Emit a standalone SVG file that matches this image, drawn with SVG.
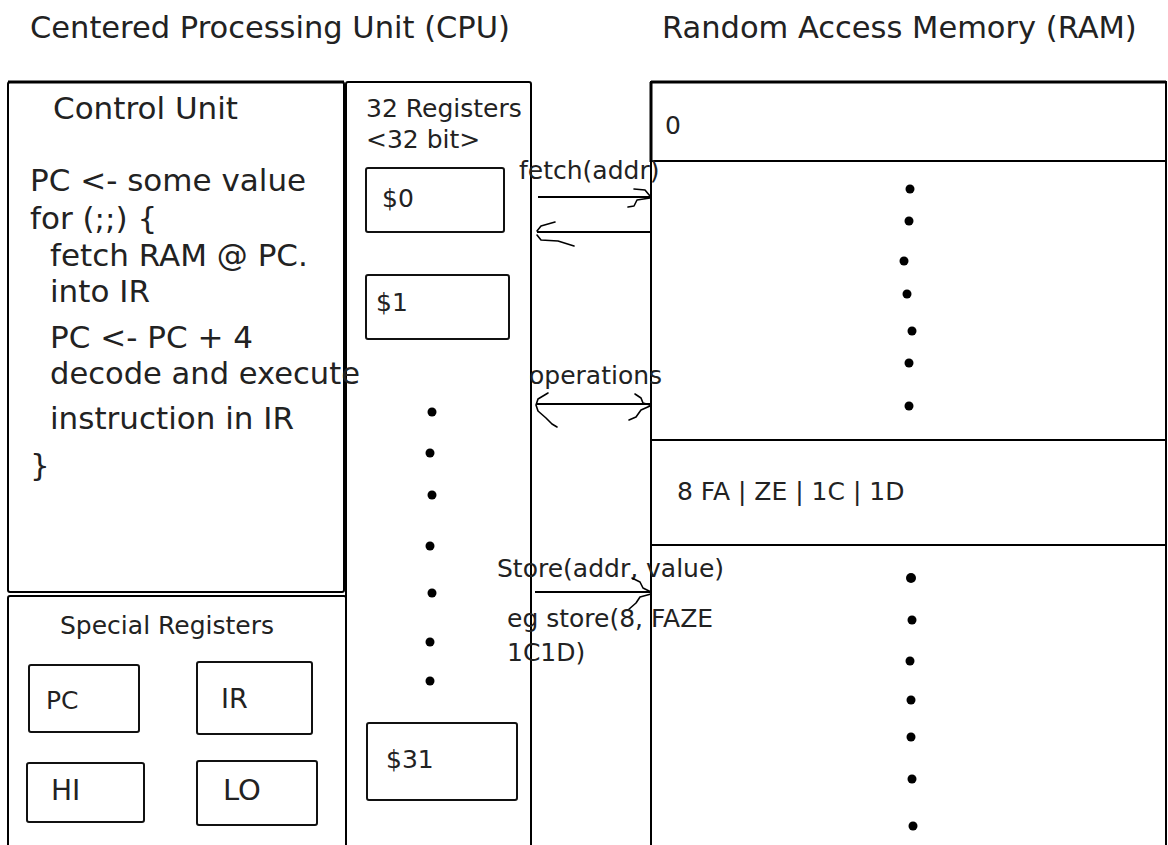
<svg xmlns="http://www.w3.org/2000/svg" width="1168" height="845" viewBox="0 0 1168 845">
  <style>
    .box { fill: #fff; stroke: #000; stroke-width: 2; }
    .reg { fill: #fff; stroke: #111; stroke-width: 2; }
    .t { font-family: "DejaVu Sans", "Liberation Sans", sans-serif; fill: #222; }
    .title { font-size: 30.5px; }
    .big { font-size: 31px; }
    .mid { font-size: 25px; }
    .dot { fill: #000; }
    .wire { fill: none; stroke: #000; stroke-width: 2; }
    .head { fill: none; stroke: #000; stroke-width: 1.6; stroke-linecap: round; stroke-linejoin: round; }
  </style>
  <rect width="1168" height="845" fill="#fff"/>

  <!-- headings -->
  <text class="t title" x="30" y="38">Centered Processing Unit (CPU)</text>
  <text class="t title" x="662" y="38">Random Access Memory (RAM)</text>

  <!-- general purpose register file (drawn first so the control unit text may spill over its edge) -->
  <g id="register-file">
    <rect class="box" x="346" y="82" width="185" height="780" rx="2"/>
    <text class="t mid" x="366" y="117">32 Registers</text>
    <text class="t mid" x="366" y="148">&lt;32 bit&gt;</text>
    <circle class="dot" cx="432" cy="412" r="4.5"/>
    <circle class="dot" cx="430" cy="453" r="4.5"/>
    <circle class="dot" cx="432" cy="495" r="4.5"/>
    <circle class="dot" cx="430" cy="546" r="4.5"/>
    <circle class="dot" cx="432" cy="593" r="4.5"/>
    <circle class="dot" cx="430" cy="642" r="4.5"/>
    <circle class="dot" cx="430" cy="681" r="4.5"/>
  </g>
  <g id="reg-0">
    <rect class="reg" x="366" y="168" width="138" height="64" rx="2"/>
    <text class="t mid" x="382" y="207">$0</text>
  </g>
  <g id="reg-1">
    <rect class="reg" x="366" y="275" width="143" height="64" rx="2"/>
    <text class="t mid" x="376" y="311">$1</text>
  </g>
  <g id="reg-31">
    <rect class="reg" x="367" y="723" width="150" height="77" rx="2"/>
    <text class="t mid" x="386" y="768">$31</text>
  </g>

  <!-- control unit -->
  <g id="control-unit">
    <rect class="box" x="8" y="82" width="336" height="510" rx="2"/>
    <line x1="8" y1="82" x2="344" y2="82" stroke="#000" stroke-width="3"/>
    <text class="t big" x="53" y="119">Control Unit</text>
    <text class="t big" x="30" y="191">PC &lt;- some value</text>
    <text class="t big" x="30" y="229">for (;;) {</text>
    <text class="t big" x="50" y="266">fetch RAM @ PC.</text>
    <text class="t big" x="50" y="302">into IR</text>
    <text class="t big" x="50" y="348">PC &lt;- PC + 4</text>
    <text class="t big" x="50" y="384" textLength="310" lengthAdjust="spacingAndGlyphs">decode and execute</text>
    <text class="t big" x="50" y="429">instruction in IR</text>
    <text class="t big" x="30" y="476">}</text>
  </g>

  <!-- special registers -->
  <g id="special-registers">
    <rect class="box" x="8" y="596" width="338" height="260" rx="2"/>
    <text class="t mid" x="60" y="634">Special Registers</text>
  </g>
  <g id="reg-pc">
    <rect class="reg" x="29" y="665" width="110" height="67" rx="2"/>
    <text class="t mid" x="46" y="709">PC</text>
  </g>
  <g id="reg-ir">
    <rect class="reg" x="197" y="662" width="115" height="72" rx="2"/>
    <text class="t" x="221" y="708" style="font-size:27px">IR</text>
  </g>
  <g id="reg-hi">
    <rect class="reg" x="27" y="763" width="117" height="59" rx="2"/>
    <text class="t" x="51" y="800" style="font-size:28px">HI</text>
  </g>
  <g id="reg-lo">
    <rect class="reg" x="197" y="761" width="120" height="64" rx="2"/>
    <text class="t" x="223" y="800" style="font-size:29px">LO</text>
  </g>

  <!-- memory -->
  <g id="ram">
    <rect class="box" x="651" y="82" width="515" height="780"/>
    <line x1="651" y1="82" x2="1166" y2="82" stroke="#000" stroke-width="3"/>
    <line x1="651" y1="82" x2="651" y2="162" stroke="#000" stroke-width="3"/>
    <line x1="651" y1="161" x2="1166" y2="161" stroke="#000" stroke-width="2"/>
    <line x1="651" y1="440" x2="1166" y2="440" stroke="#000" stroke-width="2"/>
    <line x1="651" y1="545" x2="1166" y2="545" stroke="#000" stroke-width="2"/>
    <text class="t mid" x="665" y="134">0</text>
    <text class="t mid" x="677" y="500">8 FA | ZE | 1C | 1D</text>
    <circle class="dot" cx="910" cy="189" r="4.5"/>
    <circle class="dot" cx="909" cy="221" r="4.5"/>
    <circle class="dot" cx="904" cy="261" r="4.5"/>
    <circle class="dot" cx="907" cy="294" r="4.5"/>
    <circle class="dot" cx="912" cy="331" r="4.5"/>
    <circle class="dot" cx="909" cy="363" r="4.5"/>
    <circle class="dot" cx="909" cy="406" r="4.5"/>
    <circle class="dot" cx="911" cy="578" r="5"/>
    <circle class="dot" cx="912" cy="620" r="4.5"/>
    <circle class="dot" cx="910" cy="661" r="4.5"/>
    <circle class="dot" cx="911" cy="700" r="4.5"/>
    <circle class="dot" cx="911" cy="737" r="4.5"/>
    <circle class="dot" cx="912" cy="779" r="4.5"/>
    <circle class="dot" cx="913" cy="826" r="4.5"/>
  </g>

  <!-- bus transfers between CPU and RAM -->
  <g id="connectors">
    <text class="t mid" x="519" y="179">fetch(addr)</text>
    <line class="wire" x1="538" y1="197" x2="651" y2="197"/>
    <path class="head" d="M634,189 L645,190 L650,196 M650,198 L637,200 L634,206 L628,207"/>

    <line class="wire" x1="537" y1="232" x2="651" y2="232"/>
    <path class="head" d="M555,222 L541,226 L537,231 M537,235 L541,240 L558,241 L574,246"/>

    <text class="t mid" x="529" y="384">operations</text>
    <line class="wire" x1="537" y1="404" x2="651" y2="404"/>
    <path class="head" d="M548,393 L538,399 L536,405 L538,411 L546,418 L552,424 L557,427"/>
    <path class="head" d="M635,394 L641,398 L643,403 L650,405 M650,406 L641,410 L636,417 L629,420"/>

    <text class="t mid" x="497" y="577">Store(addr, value)</text>
    <line class="wire" x1="535" y1="592" x2="651" y2="592"/>
    <path class="head" d="M632,578 L640,582 L643,588 L651,592 M651,594 L640,597 L636,603 L628,610"/>
    <text class="t mid" x="507" y="627">eg store(8, FAZE</text>
    <text class="t mid" x="507" y="661">1C1D)</text>
  </g>
</svg>
